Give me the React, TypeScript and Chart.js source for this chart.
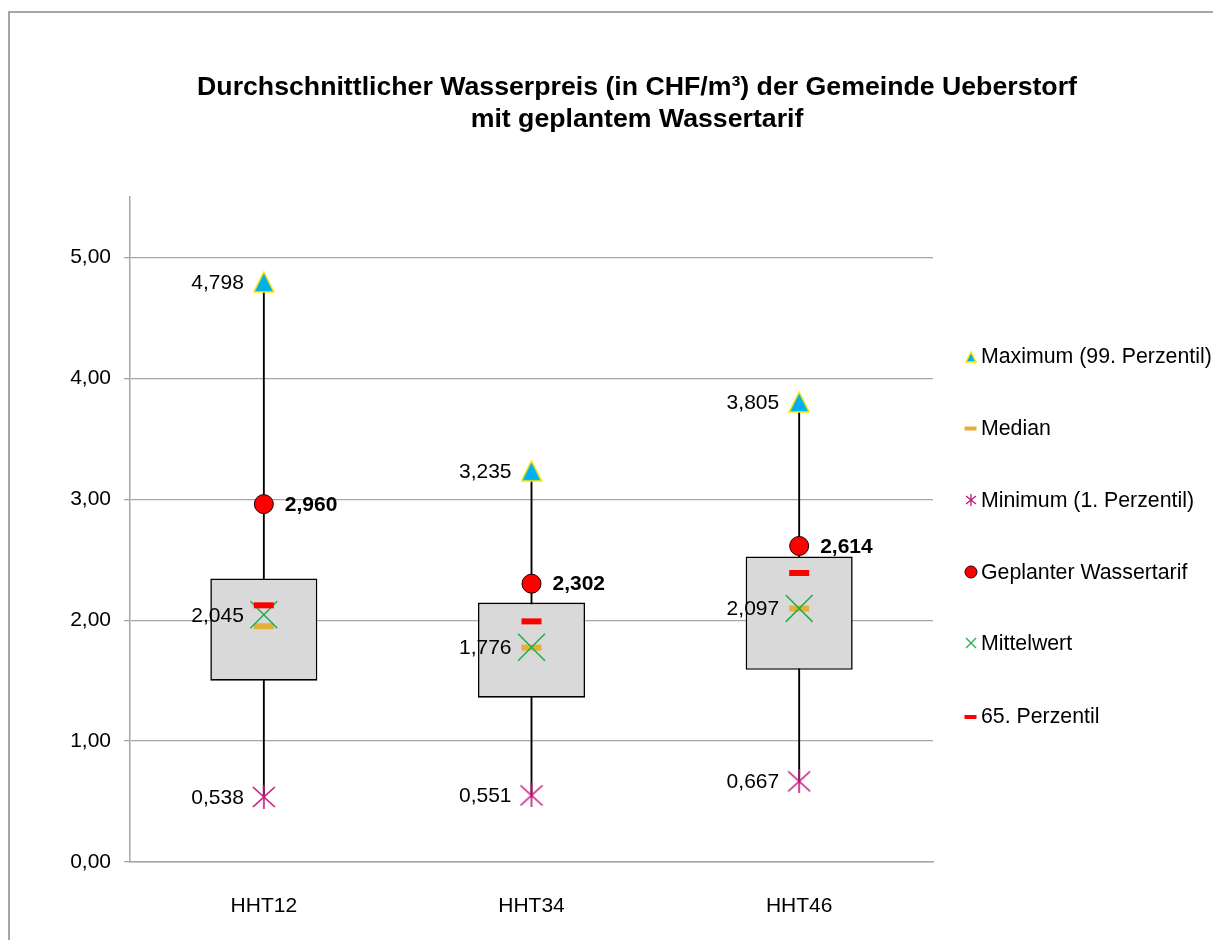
import React, { useEffect, useRef } from 'react';
import { Chart, registerables } from 'chart.js';

Chart.register(...registerables);

const FONT = "Arial, 'Liberation Sans', sans-serif";

const titleLines = [
  'Durchschnittlicher Wasserpreis (in CHF/m³) der Gemeinde Ueberstorf',
  'mit geplantem Wassertarif',
];
const categories = ['HHT12', 'HHT34', 'HHT46'];
const q1Values = [1.5, 1.359, 1.59];
const q3Values = [2.345, 2.146, 2.527];
const maxValues = [4.798, 3.235, 3.805];
const medianValues = [1.95, 1.773, 2.096];
const minValues = [0.538, 0.551, 0.667];
const plannedValues = [2.96, 2.302, 2.614];
const meanValues = [2.045, 1.776, 2.097];
const p65Values = [2.123, 1.99, 2.39];
const legendLabels = [
  'Maximum (99. Perzentil)',
  'Median',
  'Minimum (1. Perzentil)',
  'Geplanter Wassertarif',
  'Mittelwert',
  '65. Perzentil',
];

const BLUE = '#00b0f0';
const YELLOW = '#ffe600';
const GOLD = '#e8ae3a';
const MAGENTA = '#c4147a';
const RED = '#ff0000';
const GREEN = '#1fae4d';
const GRID = '#a6a6a6';

const fmt = (v: number, d: number) => v.toFixed(d).replace('.', ',');

function makeTriangle(size: number): HTMLCanvasElement {
  const c = document.createElement('canvas');
  c.width = size;
  c.height = size;
  const ctx = c.getContext('2d')!;
  ctx.beginPath();
  ctx.moveTo(size / 2, 1);
  ctx.lineTo(size - 1, size - 1);
  ctx.lineTo(1, size - 1);
  ctx.closePath();
  ctx.fillStyle = BLUE;
  ctx.fill();
  ctx.lineWidth = 1.5;
  ctx.strokeStyle = YELLOW;
  ctx.stroke();
  return c;
}

function makeStar(size: number, lw: number): HTMLCanvasElement {
  const c = document.createElement('canvas');
  c.width = size;
  c.height = size;
  const ctx = c.getContext('2d')!;
  ctx.strokeStyle = MAGENTA;
  ctx.lineWidth = lw;
  ctx.beginPath();
  ctx.moveTo(1, 2);
  ctx.lineTo(size - 1, size - 2);
  ctx.moveTo(size - 1, 2);
  ctx.lineTo(1, size - 2);
  ctx.moveTo(size / 2, 0);
  ctx.lineTo(size / 2, size);
  ctx.stroke();
  return c;
}

export default function App() {
  const ref = useRef<HTMLCanvasElement | null>(null);

  useEffect(() => {
    const canvas = ref.current;
    if (!canvas) return;

    const triangleImg = makeTriangle(22);
    const starImg = makeStar(24, 1.6);
    const triangleSmall = makeTriangle(12);
    const starSmall = makeStar(12, 1.3);

    const frame = {
      id: 'frame',
      beforeDraw(chart: any) {
        const ctx = chart.ctx;
        ctx.save();
        ctx.fillStyle = '#ffffff';
        ctx.fillRect(0, 0, chart.width, chart.height);
        ctx.strokeStyle = GRID;
        ctx.lineWidth = 2;
        ctx.beginPath();
        ctx.moveTo(9, chart.height + 5);
        ctx.lineTo(9, 12);
        ctx.lineTo(chart.width + 5, 12);
        ctx.stroke();
        ctx.restore();
      },
    };

    const texts = {
      id: 'texts',
      afterDatasetsDraw(chart: any) {
        const ctx = chart.ctx;
        ctx.save();
        // title
        ctx.fillStyle = '#000';
        ctx.textAlign = 'center';
        ctx.textBaseline = 'middle';
        ctx.font = `bold 26.7px ${FONT}`;
        ctx.fillText(titleLines[0], 637, 88);
        ctx.fillText(titleLines[1], 637, 120);

        // data labels
        const labelSpec: Array<[number, number[], 'left' | 'right', boolean]> = [
          [2, maxValues, 'left', false],
          [4, minValues, 'left', false],
          [5, plannedValues, 'right', true],
          [6, meanValues, 'left', false],
        ];
        ctx.textBaseline = 'middle';
        labelSpec.forEach(([di, vals, side, bold]) => {
          const meta = chart.getDatasetMeta(di);
          ctx.font = `${bold ? 'bold ' : ''}21px ${FONT}`;
          ctx.textAlign = side === 'left' ? 'right' : 'left';
          meta.data.forEach((pt: any, i: number) => {
            const x = side === 'left' ? pt.x - 20 : pt.x + 21;
            ctx.fillText(fmt(vals[i], 3), x, pt.y + 1);
          });
        });

        // legend
        const lx = 971;
        const tx = 981;
        const ys = [356, 428, 500, 572, 643, 716];
        ctx.font = `21.3px ${FONT}`;
        ctx.textAlign = 'left';
        legendLabels.forEach((t, i) => {
          ctx.fillStyle = '#000';
          ctx.fillText(t, tx, ys[i] + 1);
        });
        // markers
        ctx.drawImage(triangleSmall, lx - 6, ys[0] - 5);
        ctx.fillStyle = GOLD;
        ctx.fillRect(lx - 6.5, ys[1] - 1.5, 12, 4);
        ctx.drawImage(starSmall, lx - 6, ys[2] - 6);
        ctx.beginPath();
        ctx.arc(lx, ys[3], 6, 0, Math.PI * 2);
        ctx.fillStyle = RED;
        ctx.fill();
        ctx.lineWidth = 1;
        ctx.strokeStyle = '#200000';
        ctx.stroke();
        ctx.strokeStyle = GREEN;
        ctx.lineWidth = 1.3;
        ctx.beginPath();
        ctx.moveTo(lx - 5, ys[4] - 5);
        ctx.lineTo(lx + 5, ys[4] + 5);
        ctx.moveTo(lx + 5, ys[4] - 5);
        ctx.lineTo(lx - 5, ys[4] + 5);
        ctx.stroke();
        ctx.fillStyle = RED;
        ctx.fillRect(lx - 6.5, ys[5] - 1, 12, 4);
        ctx.restore();
      },
    };

    const chart = new Chart(canvas, {
      type: 'bar',
      data: {
        labels: categories,
        datasets: [
          {
            type: 'bar',
            label: 'whisker',
            data: categories.map((_, i) => [minValues[i], maxValues[i]]),
            backgroundColor: '#000000',
            barThickness: 1.2,
            grouped: false,
            order: 100,
          } as any,
          {
            type: 'bar',
            label: 'box',
            data: categories.map((_, i) => [q1Values[i], q3Values[i]]),
            backgroundColor: '#d9d9d9',
            borderColor: '#000000',
            borderWidth: 1.6,
            borderSkipped: false,
            barPercentage: 0.4,
            categoryPercentage: 1,
            grouped: false,
            order: 90,
          } as any,
          {
            type: 'line',
            label: legendLabels[0],
            data: maxValues,
            showLine: false,
            pointStyle: triangleImg,
            pointRadius: 11,
            order: 6,
          } as any,
          {
            type: 'line',
            label: legendLabels[1],
            data: medianValues,
            showLine: false,
            pointStyle: 'line',
            pointRadius: 10,
            pointBorderWidth: 6,
            pointBorderColor: GOLD,
            pointBackgroundColor: GOLD,
            order: 5,
          } as any,
          {
            type: 'line',
            label: legendLabels[2],
            data: minValues,
            showLine: false,
            pointStyle: starImg,
            pointRadius: 12,
            order: 4,
          } as any,
          {
            type: 'line',
            label: legendLabels[3],
            data: plannedValues,
            showLine: false,
            pointStyle: 'circle',
            pointRadius: 9.5,
            pointBackgroundColor: RED,
            pointBorderColor: '#200000',
            pointBorderWidth: 1,
            order: 3,
          } as any,
          {
            type: 'line',
            label: legendLabels[4],
            data: meanValues,
            showLine: false,
            pointStyle: 'crossRot',
            pointRadius: 19,
            pointBorderColor: GREEN,
            pointBorderWidth: 1.5,
            order: 2,
          } as any,
          {
            type: 'line',
            label: legendLabels[5],
            data: p65Values,
            showLine: false,
            pointStyle: 'line',
            pointRadius: 10,
            pointBorderWidth: 6,
            pointBorderColor: RED,
            pointBackgroundColor: RED,
            order: 1,
          } as any,
        ],
      },
      options: {
        responsive: false,
        animation: false,
        devicePixelRatio: 1,
        events: [],
        layout: { padding: { left: 0, top: 197, right: 280, bottom: 0 } },
        plugins: {
          legend: { display: false },
          title: { display: false },
          tooltip: { enabled: false },
        },
        scales: {
          x: {
            offset: true,
            grid: { display: false, drawTicks: false },
            border: { display: true, color: GRID, width: 1.5 },
            ticks: { color: '#000', font: { family: FONT, size: 21 }, padding: 32 },
            afterFit: (s: any) => {
              s.height = 78;
            },
          },
          y: {
            min: 0,
            max: 5.5,
            grid: { color: GRID, lineWidth: 1.3, tickLength: 6, drawTicks: true },
            border: { display: true, color: GRID, width: 1.5 },
            ticks: {
              stepSize: 1,
              includeBounds: false,
              color: '#000',
              font: { family: FONT, size: 21 },
              padding: 13,
              callback: (v: any) => fmt(Number(v), 2),
            },
            afterFit: (s: any) => {
              s.width = 130;
            },
          },
        },
      },
      plugins: [frame, texts],
    } as any);

    return () => chart.destroy();
  }, []);

  return (
    <div style={{ position: 'fixed', left: 0, top: 0, width: 1213, height: 940, overflow: 'hidden', background: '#fff' }}>
      <canvas ref={ref} width={1213} height={940} style={{ width: 1213, height: 940, display: 'block' }} />
    </div>
  );
}
